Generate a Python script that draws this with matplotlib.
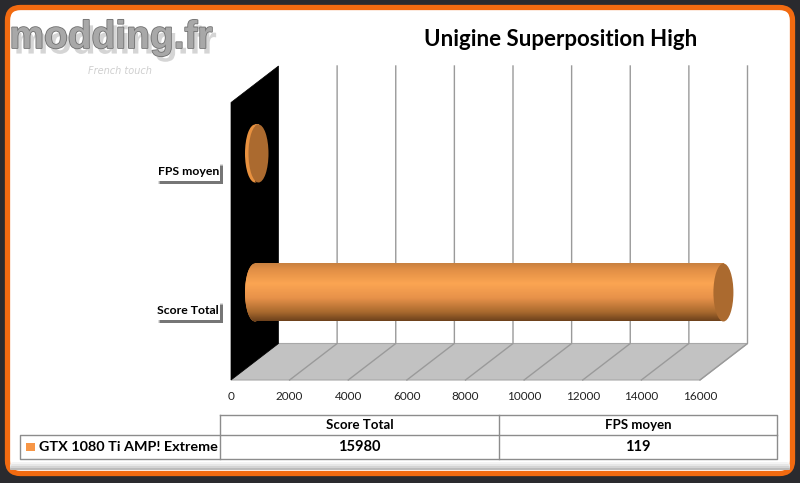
import numpy as np
import matplotlib
matplotlib.use("Agg")
import matplotlib.pyplot as plt
from matplotlib.patches import Ellipse, FancyBboxPatch, Polygon, Rectangle
from matplotlib.colors import LinearSegmentedColormap
import matplotlib.patheffects as pe

categories = ["Score Total", "FPS moyen"]
values = [15980, 119]
ticks = [0, 2000, 4000, 6000, 8000, 10000, 12000, 14000, 16000]
series = "GTX 1080 Ti AMP! Extreme"
title = "Unigine Superposition High"

W, H = 800, 483
FONT = "Lato"
fig = plt.figure(figsize=(8, 4.83), dpi=100, facecolor="#2a2a2e")

bg = fig.add_axes([0, 0, 1, 1], zorder=0)
bg.set_xlim(0, W); bg.set_ylim(H, 0); bg.axis("off")
bg.add_patch(FancyBboxPatch((7.5, 7.5), 785, 466, boxstyle="round,pad=0,rounding_size=13",
                            fc="white", ec="#f26a10", lw=3.8, zorder=1))
for k, col in enumerate(["#f4f4f4", "#e6e6e6", "#d4d4d4", "#bcbcbc"]):
    bg.add_patch(FancyBboxPatch((10, 462 + k * 2), 780, 8 - k * 2, boxstyle="round,pad=0,rounding_size=%g" % (4 - k),
                                fc=col, ec="none", zorder=1.5))

# plot geometry
X0, PX = 231.0, (700 - 231) / 16000
DX, DY = 47.5, 36.5
FRONT, BACK_TOP = 380.0, 66.0
px = lambda v: X0 + v * PX

bg.add_patch(Polygon([(px(0), FRONT), (px(16000), FRONT), (px(16000) + DX, FRONT - DY), (px(0) + DX, FRONT - DY)],
                     fc="#c2c2c2", ec="#a8a8a8", lw=0.8, zorder=2))
bg.add_patch(Polygon([(px(0), FRONT), (px(0), BACK_TOP + DY), (px(0) + DX, BACK_TOP), (px(0) + DX, FRONT - DY)],
                     fc="black", ec="black", lw=0.5, zorder=3))
for t in ticks[1:]:
    bg.plot([px(t), px(t) + DX, px(t) + DX], [FRONT, FRONT - DY, BACK_TOP], color="#9a9a9a", lw=1.0, zorder=2.5)

# data axes
ax = fig.add_axes([0, 0, 1, 1], zorder=2)
ax.patch.set_alpha(0); ax.axis("off")
CY0, CDY = 292.5, 139.0

BASE = 24 / PX
HALF_H = 29 / CDY
EW = 20 / PX
cmap = LinearSegmentedColormap.from_list("cyl", [(0, "#c98140"), (0.1, "#e08e45"), (0.35, "#fba552"),
                                                 (0.6, "#e8924a"), (0.85, "#a8692e"), (1, "#6e421c")])
grad = np.linspace(0, 1, 100).reshape(-1, 1)
for i, v in enumerate(values):
    ax.add_patch(Ellipse((BASE, i), EW, 2 * HALF_H, fc="#e8913f", ec="none", zorder=3))
    ax.imshow(grad, extent=[BASE, BASE + v, i - HALF_H, i + HALF_H], cmap=cmap, aspect="auto",
              origin="upper", zorder=3)
    if v > 1000:
        clip = Ellipse((BASE, i), EW, 2 * HALF_H, fc="none", ec="none")
        ax.add_patch(clip)
        ax.imshow(grad, extent=[BASE - EW / 2, BASE, i - HALF_H, i + HALF_H], cmap=cmap, aspect="auto",
                  origin="upper", zorder=3, clip_path=clip)
    ax.add_patch(Ellipse((BASE + v, i), EW, 2 * HALF_H, fc="#ab6a2f", ec="none", zorder=4))
ax.set_xlim(-X0 / PX, (W - X0) / PX)
ax.set_ylim((CY0 - H) / CDY, CY0 / CDY)

# category labels with shadowed boxes
for i, c in enumerate(categories):
    yc = CY0 - i * CDY + 18
    for k, a in enumerate([0.15, 0.25, 0.4]):
        bg.add_patch(Rectangle((158 + k, yc - 8 + k), 65 - k, 20 - k, fc="#222222", alpha=a, ec="none", zorder=4))
    bg.add_patch(Rectangle((157, yc - 9), 63, 18, fc="white", ec="none", zorder=4.2))
    bg.text(219, yc, c, ha="right", va="center", fontsize=8.8, fontweight="bold", family=FONT, zorder=5)

for t in ticks:
    ax.text(t, (CY0 - 396) / CDY, str(t), ha="center", va="center", fontsize=8.5, family=FONT, color="#222222", zorder=5)

bg.text(561, 40, title, ha="center", va="center", fontsize=16, fontweight="bold", family=FONT, color="black", zorder=5)

# data table
g = "#8c8c8c"
cols = [220, 499, 777]
bg.plot([220, 777, 777, 20, 20, 777], [415, 415, 459, 459, 435, 435], color=g, lw=1, zorder=4)
for c in cols[:2]:
    bg.plot([c, c], [415, 459], color=g, lw=1, zorder=4)
for i, c in enumerate(categories):
    xc = (cols[i] + cols[i + 1]) / 2
    bg.text(xc, 425, c, ha="center", va="center", fontsize=9.5, fontweight="bold", family=FONT, zorder=5)
    bg.text(xc, 447, str(values[i]), ha="center", va="center", fontsize=10.5, fontweight="bold", family=FONT, zorder=5)
bg.add_patch(Rectangle((26, 443), 9, 8, fc="#f79646", ec="none", zorder=5))
bg.text(39, 447, series, ha="left", va="center", fontsize=10.4, fontweight="bold", family=FONT, zorder=5)

# logo
bg.text(111, 38, "modding.fr", ha="center", va="center", fontsize=28, fontweight="bold",
        family="Liberation Sans", color="#a8a8a8", zorder=5,
        path_effects=[pe.SimplePatchShadow(offset=(3, -4), shadow_rgbFace="#c4c4c4", alpha=0.7),
                      pe.withStroke(linewidth=1.2, foreground="#707070")])
bg.text(120, 71, "French touch", ha="center", va="center", fontsize=7, style="italic", color="#cfcfcf", zorder=5)

fig.savefig("out.png", dpi=100, facecolor=fig.get_facecolor())
